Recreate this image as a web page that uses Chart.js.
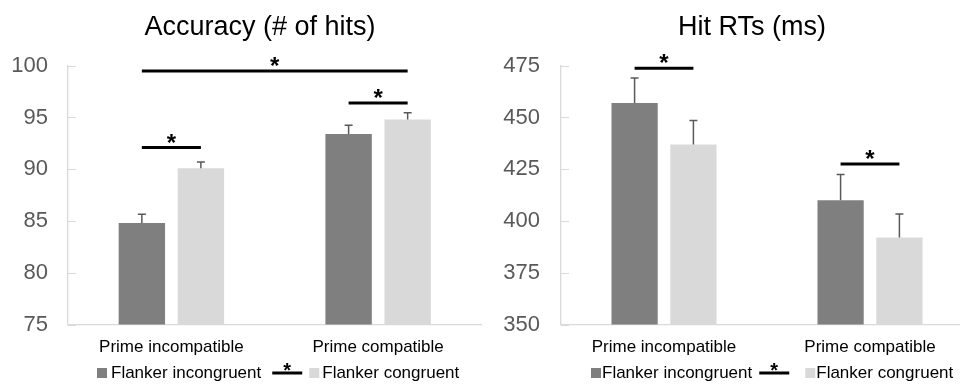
<!DOCTYPE html>
<html>
<head>
<meta charset="utf-8">
<script src="https://cdn.jsdelivr.net/npm/chart.js@4.4.1/dist/chart.umd.min.js"></script>
<style>
  html, body { margin: 0; padding: 0; background: #fff; overflow: hidden; }
  #wrap { position: relative; width: 960px; height: 385px; overflow: hidden; }
  #accBox { position: absolute; left: 0; top: 0; width: 490px; height: 385px; }
  #rtBox { position: absolute; left: 480px; top: 0; width: 500px; height: 385px; }
</style>
</head>
<body>
<div id="wrap">
  <div id="accBox"><canvas id="acc" width="490" height="385"></canvas></div>
  <div id="rtBox"><canvas id="rt" width="500" height="385"></canvas></div>
</div>
<script>
// ---- data ----
const categories = ['Prime incompatible', 'Prime compatible'];
const seriesNames = ['Flanker incongruent', 'Flanker congruent'];

// Accuracy (# of hits): means and standard errors
const accIncongruent = [84.8, 93.4];
const accCongruent = [90.1, 94.8];
const accIncongruentErr = [0.85, 0.85];
const accCongruentErr = [0.6, 0.65];
const accTicks = [75, 100, 5];   // min, max, step

// Hit RTs (ms): means and standard errors
const rtIncongruent = [457, 410];
const rtCongruent = [437, 392];
const rtIncongruentErr = [12, 12.4];
const rtCongruentErr = [11.5, 11.4];
const rtTicks = [350, 475, 25];

// significance brackets: [category, series] -> [category, series] at a level in data units
const accSig = [
  { from: [0, 0], to: [0, 1], level: 92.1 },
  { from: [0, 0], to: [1, 1], level: 99.5 },
  { from: [1, 0], to: [1, 1], level: 96.4 }
];
const rtSig = [
  { from: [0, 0], to: [0, 1], level: 473.8 },
  { from: [1, 0], to: [1, 1], level: 427.5 }
];

// ---- styling ----
const FONT = "'Liberation Sans', Arial, sans-serif";
const DARK = '#7f7f7f';
const LIGHT = '#d9d9d9';
const AXIS = '#d9d9d9';
const ERR = '#595959';

function drawStar(ctx, x, yCenter, size) {
  ctx.save();
  ctx.fillStyle = '#000';
  ctx.font = 'bold ' + size + 'px ' + FONT;
  ctx.textAlign = 'center';
  ctx.textBaseline = 'alphabetic';
  ctx.fillText('*', x, yCenter + size * 0.575);
  ctx.restore();
}

const decor = {
  id: 'decor',
  afterDatasetsDraw(chart, args, opts) {
    const ctx = chart.ctx;
    const y = chart.scales.y;
    const area = chart.chartArea;

    // inward tick marks on the value axis
    ctx.save();
    ctx.strokeStyle = AXIS;
    ctx.lineWidth = 1;
    y.ticks.forEach(t => {
      const py = Math.round(y.getPixelForValue(t.value)) + 0.5;
      ctx.beginPath();
      ctx.moveTo(area.left, py);
      ctx.lineTo(area.left + 8, py);
      ctx.stroke();
    });
    ctx.restore();

    // upward error bars
    ctx.save();
    ctx.strokeStyle = ERR;
    ctx.lineWidth = 1.5;
    chart.data.datasets.forEach((ds, di) => {
      chart.getDatasetMeta(di).data.forEach((bar, i) => {
        const top = y.getPixelForValue(ds.data[i] + ds.errors[i]);
        ctx.beginPath();
        ctx.moveTo(bar.x, bar.y);
        ctx.lineTo(bar.x, top);
        ctx.moveTo(bar.x - 4, top);
        ctx.lineTo(bar.x + 4, top);
        ctx.stroke();
      });
    });
    ctx.restore();

    // significance brackets with stars
    ctx.save();
    ctx.strokeStyle = '#000';
    ctx.lineWidth = 3;
    opts.sig.forEach(s => {
      const a = chart.getDatasetMeta(s.from[1]).data[s.from[0]];
      const b = chart.getDatasetMeta(s.to[1]).data[s.to[0]];
      const py = y.getPixelForValue(s.level);
      ctx.beginPath();
      ctx.moveTo(a.x, py);
      ctx.lineTo(b.x, py);
      ctx.stroke();
      drawStar(ctx, (a.x + b.x) / 2, py - 10.5, 24);
    });
    ctx.restore();
  },
  afterDraw(chart, args, opts) {
    const ctx = chart.ctx;
    // title
    ctx.save();
    ctx.fillStyle = '#000';
    ctx.font = '27px ' + FONT;
    ctx.textAlign = 'center';
    ctx.textBaseline = 'alphabetic';
    ctx.fillText(opts.title, opts.titleX, 35);
    ctx.restore();

    // legend: box, name, bracket with star, box, name
    const g = opts.legendGaps;
    ctx.save();
    ctx.font = '17px ' + FONT;
    ctx.textBaseline = 'middle';
    ctx.textAlign = 'left';
    const ly = 373;
    let x = opts.legendX;
    ctx.fillStyle = DARK;
    ctx.fillRect(x, ly - 5, 10, 10);
    x += g[0];
    ctx.fillStyle = '#000';
    ctx.fillText(seriesNames[0], x, ly);
    x += ctx.measureText(seriesNames[0]).width + g[1];
    ctx.strokeStyle = '#000';
    ctx.lineWidth = 3;
    ctx.beginPath();
    ctx.moveTo(x, ly);
    ctx.lineTo(x + 30, ly);
    ctx.stroke();
    drawStar(ctx, x + 15, ly - 8, 20);
    x += 30 + g[2];
    ctx.fillStyle = LIGHT;
    ctx.fillRect(x, ly - 5, 10, 10);
    x += g[3];
    ctx.fillStyle = '#000';
    ctx.fillText(seriesNames[1], x, ly);
    ctx.restore();
  }
};

function makeChart(id, cfg) {
  return new Chart(document.getElementById(id), {
    type: 'bar',
    data: {
      labels: categories,
      datasets: [
        { label: seriesNames[0], data: cfg.a, errors: cfg.aErr, backgroundColor: DARK },
        { label: seriesNames[1], data: cfg.b, errors: cfg.bErr, backgroundColor: LIGHT }
      ]
    },
    options: {
      responsive: false,
      animation: false,
      devicePixelRatio: 1,
      layout: { padding: { top: 65.7, right: cfg.padRight, left: 0, bottom: 0 } },
      datasets: { bar: { categoryPercentage: 0.571, barPercentage: 0.786 } },
      plugins: {
        legend: { display: false },
        title: { display: false },
        tooltip: { enabled: false },
        decor: { sig: cfg.sig, title: cfg.title, titleX: cfg.titleX, legendX: cfg.legendX, legendGaps: cfg.legendGaps }
      },
      scales: {
        x: {
          grid: { display: false, drawTicks: false },
          border: { color: AXIS, width: 1.3 },
          ticks: { color: '#000', font: { family: FONT, size: 17 }, padding: 13, maxRotation: 0 },
          afterFit(s) { s.height = 60.5; }
        },
        y: {
          min: cfg.ticks[0],
          max: cfg.ticks[1],
          grid: { display: false, drawTicks: false },
          border: { color: AXIS, width: 1.3 },
          ticks: { stepSize: cfg.ticks[2], color: '#595959', font: { family: FONT, size: 22 }, padding: cfg.tickPad },
          afterFit(s) { s.width = cfg.axisW; }
        }
      }
    },
    plugins: [decor]
  });
}

makeChart('acc', {
  a: accIncongruent, b: accCongruent, aErr: accIncongruentErr, bErr: accCongruentErr,
  ticks: accTicks, sig: accSig, title: 'Accuracy (# of hits)', titleX: 260,
  axisW: 68, tickPad: 20, padRight: 490 - 481.5, legendX: 97, legendGaps: [14, 11, 7, 13]
});
makeChart('rt', {
  a: rtIncongruent, b: rtCongruent, aErr: rtIncongruentErr, bErr: rtCongruentErr,
  ticks: rtTicks, sig: rtSig, title: 'Hit RTs (ms)', titleX: 272,
  axisW: 81, tickPad: 21, padRight: 7, legendX: 111, legendGaps: [11, 7, 16, 11]
});
</script>
</body>
</html>
